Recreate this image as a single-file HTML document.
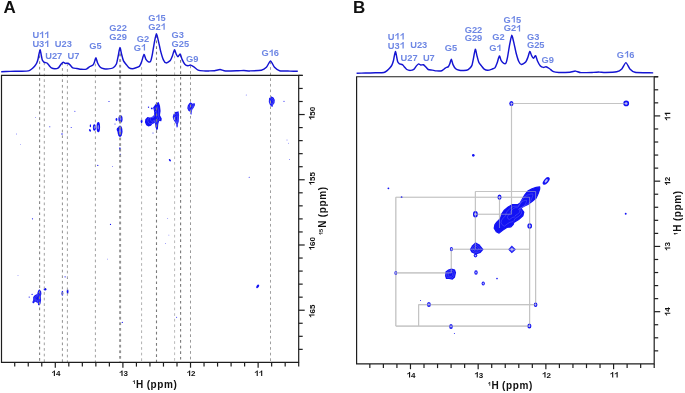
<!DOCTYPE html>
<html><head><meta charset="utf-8"><title>NMR spectra</title>
<style>html,body{margin:0;padding:0;background:#fff;width:685px;height:393px;overflow:hidden}svg{display:block;will-change:transform}text{font-kerning:none}</style>
</head><body>
<svg width="685" height="393" viewBox="0 0 685 393">
<rect width="685" height="393" fill="#fff"/>
<g font-family='"Liberation Sans", sans-serif' font-weight="bold" fill="#111">
<text x="3.45" y="12.75" font-size="17">A</text>
<text x="353.05" y="12.5" font-size="17">B</text>
</g>
<g fill="#1212f4">
<path d="M39.3 289.2L41.1 291.3L41.4 293.8L40.8 296.2L41.1 299.9L40.5 303.5L39.3 305.6L38.1 305L37.8 302.9L35.3 301.7L33.2 303.5L32.3 302.3L33.2 299.9L33.2 297.1L34.7 295.3L37.1 294.1L38.1 290.7Z"/>
<path d="M158.7 101.9L160 105.8L160.6 111L160 115.3L161.8 118.7L161.3 121.3L159.2 120.9L158.3 123.9L157.9 129.1L156.6 130.4L155.3 126.5L154.9 123.1L152.3 123.9L151 125.7L148.4 126.5L146.2 125.2L144.9 122.2L145.3 119.2L147.5 117L150.1 117.4L152.7 116.6L154 114.9L154 111L153.1 107.5L154.4 105.8L156.2 103.2Z"/>
<path d="M178.5 111.2L179.1 115.1L178.8 121.2L177.9 124.3L177.6 127.3L176.7 127.6L176.1 124.3L175.1 122.2L173.6 120L172.7 117L173.6 113.9L175.1 112.1L177 111.8Z"/>
<path d="M190.4 102.3L192.7 103.8L194.5 103.1L195 105.1L193.7 107.7L192.2 109.7L191.7 112.7L191.4 114.8L190.6 114.3L190.1 111.7L188.4 110.7L187.3 108.2L187.8 105.6L189.1 103.6Z"/>
<path d="M271 96.2L273.5 97.5L274.8 100L274.5 103L273 105L272.5 107L271.5 106.5L270 105L268.8 102L269 98.5Z"/>
<ellipse cx="98.3" cy="127.2" rx="1.75" ry="5.1"/>
<ellipse cx="94.4" cy="127.5" rx="1.5" ry="3.3"/>
<ellipse cx="90.4" cy="125.7" rx="0.65" ry="1.5"/>
<ellipse cx="90" cy="130.4" rx="0.9" ry="1.4" transform="rotate(-30 90 130.4)"/>
<ellipse cx="120.5" cy="118.9" rx="2.1" ry="3.7"/>
<ellipse cx="116.5" cy="119.5" rx="0.9" ry="1.4"/>
<ellipse cx="115" cy="124.1" rx="0.5" ry="0.5"/>
<ellipse cx="120" cy="131.2" rx="2.5" ry="5.8"/>
<ellipse cx="118" cy="129.5" rx="1.3" ry="2"/>
<ellipse cx="119.9" cy="149" rx="0.8" ry="1.8"/>
<ellipse cx="120.3" cy="154.3" rx="0.6" ry="0.6"/>
<ellipse cx="141.6" cy="121.3" rx="0.9" ry="2"/>
<ellipse cx="148.5" cy="107.1" rx="0.7" ry="0.7"/>
<ellipse cx="151.8" cy="108.4" rx="0.9" ry="0.9"/>
<ellipse cx="45.1" cy="289.2" rx="1.3" ry="1.3"/>
<ellipse cx="32.1" cy="294.4" rx="0.6" ry="0.6"/>
<ellipse cx="29.2" cy="297.1" rx="0.6" ry="0.6"/>
<ellipse cx="62.4" cy="293.3" rx="0.9" ry="2.5"/>
<ellipse cx="67.6" cy="291.6" rx="0.9" ry="2.6"/>
<ellipse cx="65.1" cy="276.8" rx="0.6" ry="0.6"/>
<ellipse cx="67.5" cy="278.5" rx="0.5" ry="0.5"/>
<ellipse cx="257.7" cy="286.4" rx="1.2" ry="2" transform="rotate(35 257.7 286.4)"/>
<ellipse cx="284" cy="101.3" rx="0.6" ry="0.5"/>
<ellipse cx="109" cy="101.4" rx="0.6" ry="0.5"/>
<ellipse cx="74.9" cy="111.2" rx="0.5" ry="0.5"/>
<ellipse cx="35.4" cy="117.4" rx="0.4" ry="0.4"/>
<ellipse cx="49.8" cy="126.7" rx="0.5" ry="0.5"/>
<ellipse cx="62" cy="134" rx="0.5" ry="0.9"/>
<ellipse cx="71.2" cy="127.4" rx="0.5" ry="0.5"/>
<ellipse cx="16.6" cy="134" rx="0.4" ry="0.4"/>
<ellipse cx="20.3" cy="144.4" rx="0.3" ry="0.3"/>
<ellipse cx="97.8" cy="165.4" rx="0.6" ry="0.6"/>
<ellipse cx="112.5" cy="166.5" rx="0.4" ry="0.4"/>
<ellipse cx="32.5" cy="218.8" rx="0.6" ry="0.6"/>
<ellipse cx="110.5" cy="224.4" rx="0.6" ry="0.6"/>
<ellipse cx="107.4" cy="259.1" rx="0.4" ry="0.4"/>
<ellipse cx="18" cy="275.6" rx="0.4" ry="0.4"/>
<ellipse cx="122.3" cy="322.4" rx="0.6" ry="0.6"/>
<ellipse cx="148.7" cy="107.5" rx="0.4" ry="0.4"/>
<ellipse cx="169.9" cy="160.2" rx="0.85" ry="1.4" transform="rotate(-35 169.9 160.2)"/>
<ellipse cx="249.2" cy="177.3" rx="0.5" ry="0.5"/>
<ellipse cx="287" cy="140" rx="0.4" ry="0.4"/>
<ellipse cx="289.4" cy="159.5" rx="0.4" ry="0.4"/>
<ellipse cx="167.7" cy="218.6" rx="0.4" ry="0.4"/>
<ellipse cx="168.9" cy="235.1" rx="0.4" ry="0.4"/>
<ellipse cx="165.4" cy="243.4" rx="0.4" ry="0.4"/>
<ellipse cx="176.6" cy="317.2" rx="0.5" ry="0.5"/>
<ellipse cx="153" cy="133" rx="0.5" ry="0.5"/>
<ellipse cx="246.2" cy="95" rx="0.4" ry="0.4"/>
<ellipse cx="288.5" cy="143.2" rx="0.4" ry="0.4"/>
</g>
<g fill="none" stroke="#fff" stroke-width="0.45" stroke-opacity="0.35">
<path d="M38.74 291.95L40 293.42L40.21 295.17L39.79 296.85L40 299.44L39.58 301.96L38.74 303.43L37.9 303.01L37.69 301.54L35.94 300.7L34.47 301.96L33.84 301.12L34.47 299.44L34.47 297.48L35.52 296.22L37.2 295.38L37.9 293Z"/>
<path d="M38.22 294.51L38.98 295.39L39.1 296.44L38.85 297.45L38.98 299L38.73 300.51L38.22 301.4L37.72 301.14L37.59 300.26L36.54 299.76L35.66 300.51L35.28 300.01L35.66 299L35.66 297.83L36.29 297.07L37.3 296.57L37.72 295.14Z"/>
<path d="M157.41 106.68L158.32 109.41L158.74 113.05L158.32 116.06L159.58 118.44L159.23 120.26L157.76 119.98L157.13 122.08L156.85 125.72L155.94 126.63L155.03 123.9L154.75 121.52L152.93 122.08L152.02 123.34L150.2 123.9L148.66 122.99L147.75 120.89L148.03 118.79L149.57 117.25L151.39 117.53L153.21 116.97L154.12 115.78L154.12 113.05L153.49 110.6L154.4 109.41L155.66 107.59Z"/>
<path d="M156.21 111.15L156.76 112.79L157.01 114.97L156.76 116.78L157.51 118.2L157.3 119.3L156.42 119.13L156.04 120.39L155.88 122.57L155.33 123.12L154.78 121.48L154.62 120.05L153.52 120.39L152.98 121.14L151.89 121.48L150.96 120.93L150.42 119.67L150.58 118.41L151.51 117.49L152.6 117.66L153.69 117.32L154.24 116.61L154.24 114.97L153.86 113.5L154.41 112.79L155.16 111.69Z"/>
<path d="M177.84 113.56L178.26 116.29L178.05 120.56L177.42 122.73L177.21 124.83L176.58 125.04L176.16 122.73L175.46 121.26L174.41 119.72L173.78 117.62L174.41 115.45L175.46 114.19L176.79 113.98Z"/>
<path d="M177.22 115.77L177.47 117.41L177.35 119.97L176.97 121.27L176.84 122.53L176.46 122.66L176.21 121.27L175.79 120.39L175.16 119.46L174.78 118.2L175.16 116.9L175.79 116.15L176.59 116.02Z"/>
<path d="M190.6 104.04L192.21 105.09L193.47 104.6L193.82 106L192.91 107.82L191.86 109.22L191.51 111.32L191.3 112.79L190.74 112.44L190.39 110.62L189.2 109.92L188.43 108.17L188.78 106.35L189.69 104.95Z"/>
<path d="M190.79 105.66L191.75 106.29L192.51 106L192.72 106.84L192.17 107.93L191.54 108.77L191.33 110.03L191.21 110.91L190.87 110.7L190.66 109.61L189.95 109.19L189.48 108.14L189.69 107.05L190.24 106.21Z"/>
<path d="M271.26 97.96L273.01 98.87L273.92 100.62L273.71 102.72L272.66 104.12L272.31 105.52L271.61 105.17L270.56 104.12L269.72 102.02L269.86 99.57Z"/>
<path d="M271.5 99.6L272.55 100.15L273.09 101.2L272.97 102.46L272.34 103.3L272.13 104.14L271.71 103.93L271.08 103.3L270.57 102.04L270.66 100.57Z"/>
</g>
<g fill="#fff" fill-opacity="0.45">
<ellipse cx="98.3" cy="127.2" rx="0.79" ry="2.29"/>
<ellipse cx="94.4" cy="127.5" rx="0.68" ry="1.48"/>
<ellipse cx="120.5" cy="118.9" rx="0.95" ry="1.67"/>
<ellipse cx="120" cy="131.2" rx="1.12" ry="2.61"/>
</g>
<g fill="none" stroke-dasharray="2.7 2.9">
<line x1="39.6" y1="50" x2="39.6" y2="362.4" stroke="#858585" stroke-width="1.1"/>
<line x1="44.3" y1="62.5" x2="44.3" y2="362.4" stroke="#a0a0a0" stroke-width="1"/>
<line x1="62.4" y1="62.5" x2="62.4" y2="362.4" stroke="#909090" stroke-width="1"/>
<line x1="67.4" y1="63.5" x2="67.4" y2="362.4" stroke="#a0a0a0" stroke-width="1"/>
<line x1="95.4" y1="58" x2="95.4" y2="362.4" stroke="#a0a0a0" stroke-width="1"/>
<line x1="119.7" y1="48" x2="119.7" y2="362.4" stroke="#8a8a8a" stroke-width="1"/>
<line x1="120.6" y1="48" x2="120.6" y2="362.4" stroke="#8a8a8a" stroke-width="1"/>
<line x1="141.6" y1="61.5" x2="141.6" y2="362.4" stroke="#b0b0b0" stroke-width="1"/>
<line x1="156.5" y1="35" x2="156.5" y2="362.4" stroke="#7a7a7a" stroke-width="1.1"/>
<line x1="174.6" y1="50" x2="174.6" y2="362.4" stroke="#bababa" stroke-width="1"/>
<line x1="180.6" y1="54.5" x2="180.6" y2="362.4" stroke="#7a7a7a" stroke-width="1.1"/>
<line x1="190.5" y1="65.5" x2="190.5" y2="362.4" stroke="#999999" stroke-width="1"/>
<line x1="270.5" y1="61.5" x2="270.5" y2="362.4" stroke="#a0a0a0" stroke-width="1"/>
</g>
<g stroke="#1e1e1e" stroke-width="1.2" fill="none">
<path d="M1.5 75.4H298.7V362.4H1.5Z"/>
<line x1="298.7" y1="75.4" x2="302.7" y2="75.4"/>
<line x1="14.72" y1="362.4" x2="14.72" y2="366.6"/>
<line x1="28.25" y1="362.4" x2="28.25" y2="366.6"/>
<line x1="41.77" y1="362.4" x2="41.77" y2="366.6"/>
<line x1="55.29" y1="362.4" x2="55.29" y2="367.7"/>
<line x1="68.81" y1="362.4" x2="68.81" y2="366.6"/>
<line x1="82.34" y1="362.4" x2="82.34" y2="366.6"/>
<line x1="95.86" y1="362.4" x2="95.86" y2="366.6"/>
<line x1="109.38" y1="362.4" x2="109.38" y2="366.6"/>
<line x1="122.9" y1="362.4" x2="122.9" y2="367.7"/>
<line x1="136.43" y1="362.4" x2="136.43" y2="366.6"/>
<line x1="149.95" y1="362.4" x2="149.95" y2="366.6"/>
<line x1="163.47" y1="362.4" x2="163.47" y2="366.6"/>
<line x1="177" y1="362.4" x2="177" y2="366.6"/>
<line x1="190.52" y1="362.4" x2="190.52" y2="367.7"/>
<line x1="204.04" y1="362.4" x2="204.04" y2="366.6"/>
<line x1="217.56" y1="362.4" x2="217.56" y2="366.6"/>
<line x1="231.09" y1="362.4" x2="231.09" y2="366.6"/>
<line x1="244.61" y1="362.4" x2="244.61" y2="366.6"/>
<line x1="258.13" y1="362.4" x2="258.13" y2="367.7"/>
<line x1="271.65" y1="362.4" x2="271.65" y2="366.6"/>
<line x1="285.18" y1="362.4" x2="285.18" y2="366.6"/>
<line x1="298.7" y1="362.4" x2="298.7" y2="366.6"/>
<line x1="298.7" y1="75.4" x2="302.7" y2="75.4"/>
<line x1="298.7" y1="88.45" x2="302.7" y2="88.45"/>
<line x1="298.7" y1="101.49" x2="302.7" y2="101.49"/>
<line x1="298.7" y1="114.54" x2="304.7" y2="114.54"/>
<line x1="298.7" y1="127.58" x2="302.7" y2="127.58"/>
<line x1="298.7" y1="140.63" x2="302.7" y2="140.63"/>
<line x1="298.7" y1="153.67" x2="302.7" y2="153.67"/>
<line x1="298.7" y1="166.72" x2="302.7" y2="166.72"/>
<line x1="298.7" y1="179.76" x2="304.7" y2="179.76"/>
<line x1="298.7" y1="192.81" x2="302.7" y2="192.81"/>
<line x1="298.7" y1="205.85" x2="302.7" y2="205.85"/>
<line x1="298.7" y1="218.9" x2="302.7" y2="218.9"/>
<line x1="298.7" y1="231.95" x2="302.7" y2="231.95"/>
<line x1="298.7" y1="244.99" x2="304.7" y2="244.99"/>
<line x1="298.7" y1="258.04" x2="302.7" y2="258.04"/>
<line x1="298.7" y1="271.08" x2="302.7" y2="271.08"/>
<line x1="298.7" y1="284.13" x2="302.7" y2="284.13"/>
<line x1="298.7" y1="297.17" x2="302.7" y2="297.17"/>
<line x1="298.7" y1="310.22" x2="304.7" y2="310.22"/>
<line x1="298.7" y1="323.26" x2="302.7" y2="323.26"/>
<line x1="298.7" y1="336.31" x2="302.7" y2="336.31"/>
<line x1="298.7" y1="349.35" x2="302.7" y2="349.35"/>
</g>
<g font-family='"Liberation Sans", sans-serif' font-weight="bold" font-size="8" fill="#111">
<path d="M0.3 0L0.438 0L0.438 -0.7L0.326 -0.7C0.3 -0.626 0.21 -0.548 0.075 -0.5L0.075 -0.378C0.165 -0.408 0.245 -0.456 0.3 -0.51Z" transform="translate(51.44 376) scale(8)"/><text x="55.89" y="376" font-size="8">4</text>
<path d="M0.3 0L0.438 0L0.438 -0.7L0.326 -0.7C0.3 -0.626 0.21 -0.548 0.075 -0.5L0.075 -0.378C0.165 -0.408 0.245 -0.456 0.3 -0.51Z" transform="translate(119.06 376) scale(8)"/><text x="123.5" y="376" font-size="8">3</text>
<path d="M0.3 0L0.438 0L0.438 -0.7L0.326 -0.7C0.3 -0.626 0.21 -0.548 0.075 -0.5L0.075 -0.378C0.165 -0.408 0.245 -0.456 0.3 -0.51Z" transform="translate(186.67 376) scale(8)"/><text x="191.12" y="376" font-size="8">2</text>
<path d="M0.3 0L0.438 0L0.438 -0.7L0.326 -0.7C0.3 -0.626 0.21 -0.548 0.075 -0.5L0.075 -0.378C0.165 -0.408 0.245 -0.456 0.3 -0.51Z" transform="translate(254.28 376) scale(8)"/><path d="M0.3 0L0.438 0L0.438 -0.7L0.326 -0.7C0.3 -0.626 0.21 -0.548 0.075 -0.5L0.075 -0.378C0.165 -0.408 0.245 -0.456 0.3 -0.51Z" transform="translate(258.73 376) scale(8)"/>
<g transform="translate(314.5 113.44) rotate(-90)"><path d="M0.3 0L0.438 0L0.438 -0.7L0.326 -0.7C0.3 -0.626 0.21 -0.548 0.075 -0.5L0.075 -0.378C0.165 -0.408 0.245 -0.456 0.3 -0.51Z" transform="translate(-6.67 0) scale(8)"/><text x="-2.22" y="0" font-size="8">50</text></g>
<g transform="translate(314.5 178.76) rotate(-90)"><path d="M0.3 0L0.438 0L0.438 -0.7L0.326 -0.7C0.3 -0.626 0.21 -0.548 0.075 -0.5L0.075 -0.378C0.165 -0.408 0.245 -0.456 0.3 -0.51Z" transform="translate(-6.67 0) scale(8)"/><text x="-2.22" y="0" font-size="8">55</text></g>
<g transform="translate(314.5 243.79) rotate(-90)"><path d="M0.3 0L0.438 0L0.438 -0.7L0.326 -0.7C0.3 -0.626 0.21 -0.548 0.075 -0.5L0.075 -0.378C0.165 -0.408 0.245 -0.456 0.3 -0.51Z" transform="translate(-6.67 0) scale(8)"/><text x="-2.22" y="0" font-size="8">60</text></g>
<g transform="translate(314.5 311.22) rotate(-90)"><path d="M0.3 0L0.438 0L0.438 -0.7L0.326 -0.7C0.3 -0.626 0.21 -0.548 0.075 -0.5L0.075 -0.378C0.165 -0.408 0.245 -0.456 0.3 -0.51Z" transform="translate(-6.67 0) scale(8)"/><text x="-2.22" y="0" font-size="8">65</text></g>
</g>
<g font-family='"Liberation Sans", sans-serif' font-weight="bold" fill="#111"><path d="M0.3 0L0.438 0L0.438 -0.7L0.326 -0.7C0.3 -0.626 0.21 -0.548 0.075 -0.5L0.075 -0.378C0.165 -0.408 0.245 -0.456 0.3 -0.51Z" transform="translate(132.39 384.1) scale(5.5)"/><text x="136.03" y="387.6" font-size="10">H</text><text x="146.7" y="387.6" font-size="10" letter-spacing="0.6">(ppm)</text></g>
<g transform="translate(326.3 227.2) rotate(-90)"><g font-family='"Liberation Sans", sans-serif' font-weight="bold" fill="#111"><path d="M0.3 0L0.438 0L0.438 -0.7L0.326 -0.7C0.3 -0.626 0.21 -0.548 0.075 -0.5L0.075 -0.378C0.165 -0.408 0.245 -0.456 0.3 -0.51Z" transform="translate(-7.86 -3.5) scale(5.5)"/><text x="-4.8" y="-3.5" font-size="5.5">5</text><text x="-0.67" y="0" font-size="10">N</text><text x="10" y="0" font-size="10" letter-spacing="0.6">(ppm)</text></g></g>
<path d="M1.2 71.7C2.14 71.67 7.99 71.45 10 71.4C12.01 71.35 18.03 71.25 20 71.2C21.97 71.15 27.25 71.13 28.5 70.9C29.75 70.67 31.05 69.5 31.7 69C32.35 68.5 34.08 66.81 34.6 66.2C35.12 65.59 36.24 64.05 36.6 63.3C36.96 62.55 37.74 60.19 38 59.2C38.26 58.21 38.77 55 39 54C39.23 53 39.97 49.71 40.2 49.8C40.43 49.89 40.98 53.7 41.2 54.8C41.42 55.9 42.01 59.32 42.3 60.1C42.59 60.88 43.61 61.84 43.9 62.1C44.19 62.36 44.67 62.4 45 62.5C45.33 62.6 46.59 62.72 47 63C47.41 63.28 48.33 64.58 48.8 65.1C49.27 65.62 50.75 67.51 51.4 67.9C52.05 68.29 54.15 68.81 54.9 68.8C55.65 68.79 57.75 68.28 58.4 67.8C59.05 67.32 60.49 64.89 61 64.3C61.51 63.71 62.73 62.4 63.2 62.3C63.67 62.2 64.89 63.3 65.4 63.4C65.91 63.5 67.49 63.02 68 63.2C68.51 63.38 69.69 64.6 70.2 65.1C70.71 65.6 72.1 67.54 72.8 67.9C73.5 68.26 75.9 68.35 76.8 68.5C77.7 68.65 80.18 69.24 81.2 69.3C82.22 69.36 85.47 69.4 86.4 69.1C87.33 68.8 89.2 66.94 89.9 66.5C90.6 66.06 92.53 65.43 93 65C93.47 64.57 93.99 63.28 94.3 62.5C94.61 61.72 95.55 57.65 95.9 57.7C96.25 57.75 97.13 61.99 97.6 63C98.07 64.01 99.63 66.59 100.3 67.2C100.97 67.81 103.04 68.52 103.9 68.7C104.76 68.88 107.45 68.97 108.4 68.9C109.35 68.83 111.95 68.52 112.8 68C113.65 67.48 115.82 65.28 116.4 64C116.98 62.72 117.83 57.75 118.2 56C118.57 54.25 119.53 47.74 119.9 47.6C120.27 47.46 121.32 53.28 121.7 54.7C122.08 56.12 123.02 59.85 123.5 60.9C123.98 61.95 125.63 63.79 126.2 64.5C126.77 65.21 128.14 67.15 128.8 67.6C129.46 68.05 131.54 68.72 132.4 68.7C133.26 68.68 136.14 67.66 136.9 67.4C137.66 67.14 138.99 66.94 139.5 66.3C140.01 65.66 141.22 62.67 141.7 61.4C142.18 60.13 143.56 54.65 144 54.4C144.44 54.15 145.33 58.31 145.8 59.1C146.27 59.89 147.9 61.54 148.4 61.8C148.9 62.06 150.11 62.15 150.5 61.5C150.89 60.85 151.69 57.69 152.1 55.7C152.51 53.71 153.84 45.15 154.3 42.8C154.76 40.45 155.94 33.81 156.4 33.7C156.86 33.59 158.14 39.91 158.6 41.8C159.06 43.69 160.19 49.47 160.7 51.4C161.21 53.33 162.83 58.67 163.4 59.9C163.97 61.13 165.26 62.84 166 62.9C166.74 62.96 169.61 61.27 170.3 60.5C170.99 59.73 172.06 56.84 172.5 55.7C172.94 54.56 174.01 49.97 174.4 49.8C174.79 49.63 175.82 53.36 176.2 54.1C176.58 54.84 177.57 56.7 178 56.7C178.43 56.7 179.76 53.81 180.2 54.1C180.64 54.39 181.61 58.32 182.1 59.4C182.59 60.48 184.17 63.52 184.8 64.2C185.43 64.88 187.38 65.7 188 65.8C188.62 65.9 189.97 64.98 190.6 65.1C191.23 65.22 193.1 66.37 193.9 66.9C194.7 67.43 197.08 69.67 198.1 70.1C199.12 70.53 202.29 70.81 203.5 70.9C204.71 70.99 208.22 70.92 209.4 70.9C210.58 70.88 213.46 70.85 214.6 70.7C215.74 70.55 218.94 69.47 220.1 69.5C221.26 69.53 223.59 70.86 225.5 71C227.41 71.14 236.05 70.85 238 70.8C239.95 70.75 242.52 70.49 243.8 70.5C245.08 70.51 248.13 70.93 250 70.9C251.87 70.87 259.55 70.58 261.3 70.2C263.05 69.82 265.42 68.28 266.4 67.3C267.38 66.32 269.64 61 270.5 61C271.36 61 273.53 66.27 274.5 67.3C275.47 68.33 277.95 70.29 279.6 70.7C281.25 71.11 288.06 71.04 290 71.1C291.94 71.16 296.97 71.28 297.8 71.3" fill="none" stroke="#1414d2" stroke-width="1.45" stroke-linejoin="round"/>
<g font-family='"Liberation Sans", sans-serif' font-weight="bold" font-size="9.3" fill="#6e87e4">
<text x="32.39" y="38" font-size="9.3">U</text><path d="M0.3 0L0.438 0L0.438 -0.7L0.326 -0.7C0.3 -0.626 0.21 -0.548 0.075 -0.5L0.075 -0.378C0.165 -0.408 0.245 -0.456 0.3 -0.51Z" transform="translate(39.11 38) scale(9.3)"/><path d="M0.3 0L0.438 0L0.438 -0.7L0.326 -0.7C0.3 -0.626 0.21 -0.548 0.075 -0.5L0.075 -0.378C0.165 -0.408 0.245 -0.456 0.3 -0.51Z" transform="translate(44.28 38) scale(9.3)"/>
<text x="32.39" y="46.9" font-size="9.3">U3</text><path d="M0.3 0L0.438 0L0.438 -0.7L0.326 -0.7C0.3 -0.626 0.21 -0.548 0.075 -0.5L0.075 -0.378C0.165 -0.408 0.245 -0.456 0.3 -0.51Z" transform="translate(44.28 46.9) scale(9.3)"/>
<text x="54.79" y="46.9" font-size="9.3">U23</text>
<text x="45.19" y="59.1" font-size="9.3">U27</text>
<text x="67.49" y="59.1" font-size="9.3">U7</text>
<text x="89.37" y="49" font-size="9.3">G5</text>
<text x="109.27" y="31.2" font-size="9.3">G22</text>
<text x="109.27" y="39.8" font-size="9.3">G29</text>
<text x="136.77" y="42" font-size="9.3">G2</text>
<text x="133.77" y="50.5" font-size="9.3">G</text><path d="M0.3 0L0.438 0L0.438 -0.7L0.326 -0.7C0.3 -0.626 0.21 -0.548 0.075 -0.5L0.075 -0.378C0.165 -0.408 0.245 -0.456 0.3 -0.51Z" transform="translate(141 50.5) scale(9.3)"/>
<text x="148.17" y="21" font-size="9.3">G</text><path d="M0.3 0L0.438 0L0.438 -0.7L0.326 -0.7C0.3 -0.626 0.21 -0.548 0.075 -0.5L0.075 -0.378C0.165 -0.408 0.245 -0.456 0.3 -0.51Z" transform="translate(155.4 21) scale(9.3)"/><text x="160.57" y="21" font-size="9.3">5</text>
<text x="148.27" y="29.8" font-size="9.3">G2</text><path d="M0.3 0L0.438 0L0.438 -0.7L0.326 -0.7C0.3 -0.626 0.21 -0.548 0.075 -0.5L0.075 -0.378C0.165 -0.408 0.245 -0.456 0.3 -0.51Z" transform="translate(160.67 29.8) scale(9.3)"/>
<text x="171.57" y="38.3" font-size="9.3">G3</text>
<text x="171.57" y="46.8" font-size="9.3">G25</text>
<text x="186.07" y="61.7" font-size="9.3">G9</text>
<text x="261.47" y="56" font-size="9.3">G</text><path d="M0.3 0L0.438 0L0.438 -0.7L0.326 -0.7C0.3 -0.626 0.21 -0.548 0.075 -0.5L0.075 -0.378C0.165 -0.408 0.245 -0.456 0.3 -0.51Z" transform="translate(268.7 56) scale(9.3)"/><text x="273.87" y="56" font-size="9.3">6</text>
</g>
<g stroke="#c4c4c4" stroke-width="1.1" fill="none">
<line x1="511.4" y1="103.5" x2="626.2" y2="103.5"/>
<line x1="511.5" y1="103.5" x2="511.5" y2="214.2"/>
<line x1="475.4" y1="214.2" x2="511.5" y2="214.2"/>
<line x1="475.4" y1="191.5" x2="475.4" y2="249.3"/>
<line x1="475.4" y1="191.5" x2="535.6" y2="191.5"/>
<line x1="535.6" y1="191.5" x2="535.6" y2="304.8"/>
<line x1="395.8" y1="197.3" x2="529.6" y2="197.3"/>
<line x1="529.6" y1="197.3" x2="529.6" y2="326.1"/>
<line x1="395.8" y1="197.3" x2="395.8" y2="326.1"/>
<line x1="451.3" y1="249.3" x2="529.6" y2="249.3"/>
<line x1="451.3" y1="249.3" x2="451.3" y2="272.9"/>
<line x1="395.8" y1="272.9" x2="451.3" y2="272.9"/>
<line x1="418.6" y1="304.4" x2="418.6" y2="326.1"/>
<line x1="418.6" y1="304.6" x2="535.6" y2="304.6"/>
<line x1="395.8" y1="326.1" x2="529.4" y2="326.1"/>
<line x1="499.5" y1="197.3" x2="499.5" y2="228"/>
</g>
<g fill="#1212f4">
<path d="M539.7 186.9L536.2 187.3L532 188.7L527.8 191.1L525 194.6L522.9 198.1L520.1 203L518 204.6L512.4 204.6L508.2 207L504 210.5L501.8 213.8L500.5 218.4L497 221.9L494.9 224.7L494.2 228.2L496.3 231.7L499.1 233.1L502.6 230.3L506.8 227.5L511 226.8L513.1 224.7L513.8 222.6L518.7 219.5L522.9 215.8L523.8 212.1L520.8 208.2L523.6 206.5L527.8 204.4L532 201.6L536.2 198.1L538.3 193.2L539.7 189Z" stroke="#1212f4" stroke-width="1.2" stroke-linejoin="round"/>
<path d="M475.5 242.3L479.5 244.5L483.6 249.5L480.5 253L476 254.5L471.5 252.5L469.8 249.5L472 245.5Z"/>
<path d="M511.8 245.5L515.9 249.4L511.8 253.2L508.2 249.4Z"/>
<path d="M451.5 268.6L455 269.5L456.1 272.5L455 277.5L452.5 279.7L449 279L446 279L445 276L445.5 271.5L448.2 269.5Z"/>
<ellipse cx="626.2" cy="103.4" rx="2.9" ry="2.8"/>
<ellipse cx="511.4" cy="103.6" rx="2.1" ry="2.5"/>
<ellipse cx="546.2" cy="180.9" rx="4.6" ry="2.3" transform="rotate(-50 546.2 180.9)"/>
<ellipse cx="499.5" cy="197.3" rx="2" ry="2.7"/>
<ellipse cx="529.7" cy="226" rx="2.3" ry="2.8"/>
<ellipse cx="475.4" cy="214.2" rx="2.4" ry="3.3"/>
<ellipse cx="475.5" cy="255.6" rx="1.8" ry="1.8"/>
<ellipse cx="451.4" cy="249.1" rx="1.5" ry="2.2"/>
<ellipse cx="476" cy="272.5" rx="1.7" ry="2.3"/>
<ellipse cx="483.2" cy="283.5" rx="1.6" ry="2"/>
<ellipse cx="395.8" cy="272.9" rx="1.4" ry="2"/>
<ellipse cx="428.9" cy="304.4" rx="1.9" ry="2.5"/>
<ellipse cx="535.6" cy="304.8" rx="1.8" ry="2.3"/>
<ellipse cx="451" cy="326.5" rx="1.8" ry="2.5"/>
<ellipse cx="529.4" cy="326.1" rx="2" ry="2.5"/>
<ellipse cx="473.3" cy="155.3" rx="1.3" ry="1.4"/>
<ellipse cx="388.4" cy="188.3" rx="0.9" ry="0.9"/>
<ellipse cx="401.6" cy="197.2" rx="0.9" ry="0.9"/>
<ellipse cx="625.7" cy="213.8" rx="0.95" ry="0.95"/>
<ellipse cx="497" cy="278.6" rx="0.8" ry="0.8"/>
<ellipse cx="420.5" cy="300.6" rx="0.5" ry="0.5"/>
<ellipse cx="454.4" cy="333.4" rx="0.5" ry="0.5"/>
</g>
<g fill="none" stroke="#fff" stroke-width="0.45" stroke-opacity="0.35">
<path d="M532.89 193.82L530.44 194.1L527.5 195.08L524.56 196.76L522.6 199.21L521.13 201.66L519.17 205.09L517.7 206.21L513.78 206.21L510.84 207.89L507.9 210.34L506.36 212.65L505.45 215.87L503 218.32L501.53 220.28L501.04 222.73L502.51 225.18L504.47 226.16L506.92 224.2L509.86 222.24L512.8 221.75L514.27 220.28L514.76 218.81L518.19 216.64L521.13 214.05L521.76 211.46L519.66 208.73L521.62 207.54L524.56 206.07L527.5 204.11L530.44 201.66L531.91 198.23L532.89 195.29Z"/>
<path d="M526.54 200.27L525.07 200.44L523.3 201.03L521.54 202.04L520.36 203.51L519.48 204.98L518.31 207.03L517.42 207.71L515.07 207.71L513.31 208.71L511.54 210.18L510.62 211.57L510.07 213.5L508.6 214.97L507.72 216.15L507.43 217.62L508.31 219.09L509.49 219.68L510.96 218.5L512.72 217.32L514.48 217.03L515.37 216.15L515.66 215.27L517.72 213.96L519.48 212.41L519.86 210.86L518.6 209.22L519.78 208.5L521.54 207.62L523.3 206.45L525.07 204.98L525.95 202.92L526.54 201.15Z"/>
<path d="M475.67 244.28L478.47 245.82L481.34 249.32L479.17 251.77L476.01 252.82L472.87 251.42L471.68 249.32L473.22 246.52Z"/>
<path d="M475.82 246.14L477.5 247.06L479.22 249.16L477.92 250.63L476.03 251.26L474.14 250.42L473.43 249.16L474.35 247.48Z"/>
<path d="M511.84 246.66L514.71 249.39L511.84 252.05L509.32 249.39Z"/>
<path d="M511.87 247.75L513.59 249.39L511.87 250.98L510.36 249.39Z"/>
<path d="M451.16 270.3L453.61 270.93L454.38 273.03L453.61 276.53L451.86 278.07L449.41 277.58L447.31 277.58L446.61 275.48L446.96 272.33L448.85 270.93Z"/>
<path d="M450.85 271.89L452.32 272.27L452.78 273.53L452.32 275.63L451.27 276.56L449.8 276.26L448.54 276.26L448.12 275L448.33 273.11L449.46 272.27Z"/>
</g>
<g fill="#fff" fill-opacity="0.7">
<path d="M511.87 247.63L513.71 249.39L511.87 251.1L510.25 249.39Z"/>
<ellipse cx="626.2" cy="103.4" rx="1.3" ry="1.26"/>
<ellipse cx="511.4" cy="103.6" rx="0.95" ry="1.12"/>
<ellipse cx="546.2" cy="180.9" rx="2.07" ry="1.03" transform="rotate(-50 546.2 180.9)"/>
<ellipse cx="499.5" cy="197.3" rx="0.9" ry="1.22"/>
<ellipse cx="529.7" cy="226" rx="1.03" ry="1.26"/>
<ellipse cx="475.4" cy="214.2" rx="1.08" ry="1.48"/>
<ellipse cx="475.5" cy="255.6" rx="0.81" ry="0.81"/>
<ellipse cx="451.4" cy="249.1" rx="0.68" ry="0.99"/>
<ellipse cx="476" cy="272.5" rx="0.77" ry="1.03"/>
<ellipse cx="483.2" cy="283.5" rx="0.72" ry="0.9"/>
<ellipse cx="395.8" cy="272.9" rx="0.63" ry="0.9"/>
<ellipse cx="428.9" cy="304.4" rx="0.85" ry="1.12"/>
<ellipse cx="535.6" cy="304.8" rx="0.81" ry="1.03"/>
<ellipse cx="451" cy="326.5" rx="0.81" ry="1.12"/>
<ellipse cx="529.4" cy="326.1" rx="0.9" ry="1.12"/>
</g>
<g stroke="#c4c4c4" stroke-width="1.1" fill="none" stroke-opacity="0.5">
<line x1="511.4" y1="103.5" x2="626.2" y2="103.5"/>
<line x1="511.5" y1="103.5" x2="511.5" y2="214.2"/>
<line x1="475.4" y1="214.2" x2="511.5" y2="214.2"/>
<line x1="475.4" y1="191.5" x2="475.4" y2="249.3"/>
<line x1="475.4" y1="191.5" x2="535.6" y2="191.5"/>
<line x1="535.6" y1="191.5" x2="535.6" y2="304.8"/>
<line x1="395.8" y1="197.3" x2="529.6" y2="197.3"/>
<line x1="529.6" y1="197.3" x2="529.6" y2="326.1"/>
<line x1="395.8" y1="197.3" x2="395.8" y2="326.1"/>
<line x1="451.3" y1="249.3" x2="529.6" y2="249.3"/>
<line x1="451.3" y1="249.3" x2="451.3" y2="272.9"/>
<line x1="395.8" y1="272.9" x2="451.3" y2="272.9"/>
<line x1="418.6" y1="304.4" x2="418.6" y2="326.1"/>
<line x1="418.6" y1="304.6" x2="535.6" y2="304.6"/>
<line x1="395.8" y1="326.1" x2="529.4" y2="326.1"/>
<line x1="499.5" y1="197.3" x2="499.5" y2="228"/>
</g>
<g stroke="#1e1e1e" stroke-width="1.2" fill="none">
<path d="M356.6 76.75H654.2V363.9H356.6Z"/>
<line x1="654.2" y1="76.75" x2="658.2" y2="76.75"/>
<line x1="369.84" y1="363.9" x2="369.84" y2="368.1"/>
<line x1="383.38" y1="363.9" x2="383.38" y2="368.1"/>
<line x1="396.92" y1="363.9" x2="396.92" y2="368.1"/>
<line x1="410.46" y1="363.9" x2="410.46" y2="369.2"/>
<line x1="424" y1="363.9" x2="424" y2="368.1"/>
<line x1="437.55" y1="363.9" x2="437.55" y2="368.1"/>
<line x1="451.09" y1="363.9" x2="451.09" y2="368.1"/>
<line x1="464.63" y1="363.9" x2="464.63" y2="368.1"/>
<line x1="478.17" y1="363.9" x2="478.17" y2="369.2"/>
<line x1="491.71" y1="363.9" x2="491.71" y2="368.1"/>
<line x1="505.25" y1="363.9" x2="505.25" y2="368.1"/>
<line x1="518.79" y1="363.9" x2="518.79" y2="368.1"/>
<line x1="532.33" y1="363.9" x2="532.33" y2="368.1"/>
<line x1="545.87" y1="363.9" x2="545.87" y2="369.2"/>
<line x1="559.41" y1="363.9" x2="559.41" y2="368.1"/>
<line x1="572.95" y1="363.9" x2="572.95" y2="368.1"/>
<line x1="586.5" y1="363.9" x2="586.5" y2="368.1"/>
<line x1="600.04" y1="363.9" x2="600.04" y2="368.1"/>
<line x1="613.58" y1="363.9" x2="613.58" y2="369.2"/>
<line x1="627.12" y1="363.9" x2="627.12" y2="368.1"/>
<line x1="640.66" y1="363.9" x2="640.66" y2="368.1"/>
<line x1="654.2" y1="363.9" x2="654.2" y2="368.1"/>
<line x1="654.2" y1="76.75" x2="658.2" y2="76.75"/>
<line x1="654.2" y1="89.8" x2="658.2" y2="89.8"/>
<line x1="654.2" y1="102.85" x2="658.2" y2="102.85"/>
<line x1="654.2" y1="115.91" x2="660.2" y2="115.91"/>
<line x1="654.2" y1="128.96" x2="658.2" y2="128.96"/>
<line x1="654.2" y1="142.01" x2="658.2" y2="142.01"/>
<line x1="654.2" y1="155.06" x2="658.2" y2="155.06"/>
<line x1="654.2" y1="168.12" x2="658.2" y2="168.12"/>
<line x1="654.2" y1="181.17" x2="660.2" y2="181.17"/>
<line x1="654.2" y1="194.22" x2="658.2" y2="194.22"/>
<line x1="654.2" y1="207.27" x2="658.2" y2="207.27"/>
<line x1="654.2" y1="220.32" x2="658.2" y2="220.32"/>
<line x1="654.2" y1="233.38" x2="658.2" y2="233.38"/>
<line x1="654.2" y1="246.43" x2="660.2" y2="246.43"/>
<line x1="654.2" y1="259.48" x2="658.2" y2="259.48"/>
<line x1="654.2" y1="272.53" x2="658.2" y2="272.53"/>
<line x1="654.2" y1="285.59" x2="658.2" y2="285.59"/>
<line x1="654.2" y1="298.64" x2="658.2" y2="298.64"/>
<line x1="654.2" y1="311.69" x2="660.2" y2="311.69"/>
<line x1="654.2" y1="324.74" x2="658.2" y2="324.74"/>
<line x1="654.2" y1="337.8" x2="658.2" y2="337.8"/>
<line x1="654.2" y1="350.85" x2="658.2" y2="350.85"/>
</g>
<g font-family='"Liberation Sans", sans-serif' font-weight="bold" font-size="8" fill="#111">
<path d="M0.3 0L0.438 0L0.438 -0.7L0.326 -0.7C0.3 -0.626 0.21 -0.548 0.075 -0.5L0.075 -0.378C0.165 -0.408 0.245 -0.456 0.3 -0.51Z" transform="translate(406.61 377.5) scale(8)"/><text x="411.06" y="377.5" font-size="8">4</text>
<path d="M0.3 0L0.438 0L0.438 -0.7L0.326 -0.7C0.3 -0.626 0.21 -0.548 0.075 -0.5L0.075 -0.378C0.165 -0.408 0.245 -0.456 0.3 -0.51Z" transform="translate(474.32 377.5) scale(8)"/><text x="478.77" y="377.5" font-size="8">3</text>
<path d="M0.3 0L0.438 0L0.438 -0.7L0.326 -0.7C0.3 -0.626 0.21 -0.548 0.075 -0.5L0.075 -0.378C0.165 -0.408 0.245 -0.456 0.3 -0.51Z" transform="translate(542.02 377.5) scale(8)"/><text x="546.47" y="377.5" font-size="8">2</text>
<path d="M0.3 0L0.438 0L0.438 -0.7L0.326 -0.7C0.3 -0.626 0.21 -0.548 0.075 -0.5L0.075 -0.378C0.165 -0.408 0.245 -0.456 0.3 -0.51Z" transform="translate(609.73 377.5) scale(8)"/><path d="M0.3 0L0.438 0L0.438 -0.7L0.326 -0.7C0.3 -0.626 0.21 -0.548 0.075 -0.5L0.075 -0.378C0.165 -0.408 0.245 -0.456 0.3 -0.51Z" transform="translate(614.18 377.5) scale(8)"/>
<g transform="translate(670.3 116.31) rotate(-90)"><path d="M0.3 0L0.438 0L0.438 -0.7L0.326 -0.7C0.3 -0.626 0.21 -0.548 0.075 -0.5L0.075 -0.378C0.165 -0.408 0.245 -0.456 0.3 -0.51Z" transform="translate(-4.45 0) scale(8)"/><path d="M0.3 0L0.438 0L0.438 -0.7L0.326 -0.7C0.3 -0.626 0.21 -0.548 0.075 -0.5L0.075 -0.378C0.165 -0.408 0.245 -0.456 0.3 -0.51Z" transform="translate(0 0) scale(8)"/></g>
<g transform="translate(670.3 181.17) rotate(-90)"><path d="M0.3 0L0.438 0L0.438 -0.7L0.326 -0.7C0.3 -0.626 0.21 -0.548 0.075 -0.5L0.075 -0.378C0.165 -0.408 0.245 -0.456 0.3 -0.51Z" transform="translate(-4.45 0) scale(8)"/><text x="0" y="0" font-size="8">2</text></g>
<g transform="translate(670.3 246.43) rotate(-90)"><path d="M0.3 0L0.438 0L0.438 -0.7L0.326 -0.7C0.3 -0.626 0.21 -0.548 0.075 -0.5L0.075 -0.378C0.165 -0.408 0.245 -0.456 0.3 -0.51Z" transform="translate(-4.45 0) scale(8)"/><text x="0" y="0" font-size="8">3</text></g>
<g transform="translate(670.3 311.69) rotate(-90)"><path d="M0.3 0L0.438 0L0.438 -0.7L0.326 -0.7C0.3 -0.626 0.21 -0.548 0.075 -0.5L0.075 -0.378C0.165 -0.408 0.245 -0.456 0.3 -0.51Z" transform="translate(-4.45 0) scale(8)"/><text x="0" y="0" font-size="8">4</text></g>
</g>
<g font-family='"Liberation Sans", sans-serif' font-weight="bold" fill="#111"><path d="M0.3 0L0.438 0L0.438 -0.7L0.326 -0.7C0.3 -0.626 0.21 -0.548 0.075 -0.5L0.075 -0.378C0.165 -0.408 0.245 -0.456 0.3 -0.51Z" transform="translate(487.79 385.8) scale(5.5)"/><text x="491.43" y="389.3" font-size="10">H</text><text x="502.1" y="389.3" font-size="10" letter-spacing="0.6">(ppm)</text></g>
<g transform="translate(681.1 231.1) rotate(-90)"><g font-family='"Liberation Sans", sans-serif' font-weight="bold" fill="#111"><path d="M0.3 0L0.438 0L0.438 -0.7L0.326 -0.7C0.3 -0.626 0.21 -0.548 0.075 -0.5L0.075 -0.378C0.165 -0.408 0.245 -0.456 0.3 -0.51Z" transform="translate(-4.31 -3.5) scale(5.5)"/><text x="-0.67" y="0" font-size="10">H</text><text x="10" y="0" font-size="10" letter-spacing="0.6">(ppm)</text></g></g>
<path d="M356.6 73.3C357.54 73.27 363.39 73.05 365.4 73C367.41 72.95 373.43 72.85 375.4 72.8C377.37 72.75 382.65 72.73 383.9 72.5C385.15 72.27 386.45 71.1 387.1 70.6C387.75 70.1 389.48 68.41 390 67.8C390.52 67.19 391.64 65.65 392 64.9C392.36 64.15 393.14 61.79 393.4 60.8C393.66 59.81 394.17 56.6 394.4 55.6C394.63 54.6 395.37 51.31 395.6 51.4C395.83 51.49 396.38 55.3 396.6 56.4C396.82 57.5 397.41 60.92 397.7 61.7C397.99 62.48 399.01 63.44 399.3 63.7C399.59 63.96 400.07 64 400.4 64.1C400.73 64.2 401.99 64.32 402.4 64.6C402.81 64.88 403.73 66.18 404.2 66.7C404.67 67.22 406.15 69.11 406.8 69.5C407.45 69.89 409.55 70.41 410.3 70.4C411.05 70.39 413.15 69.88 413.8 69.4C414.45 68.92 415.89 66.49 416.4 65.9C416.91 65.31 418.13 64 418.6 63.9C419.07 63.8 420.29 64.9 420.8 65C421.31 65.1 422.89 64.62 423.4 64.8C423.91 64.98 425.09 66.2 425.6 66.7C426.11 67.2 427.5 69.14 428.2 69.5C428.9 69.86 431.3 69.95 432.2 70.1C433.1 70.25 435.58 70.84 436.6 70.9C437.62 70.96 440.87 71 441.8 70.7C442.73 70.4 444.6 68.54 445.3 68.1C446 67.66 447.93 67.03 448.4 66.6C448.87 66.17 449.39 64.88 449.7 64.1C450.01 63.32 450.95 59.25 451.3 59.3C451.65 59.35 452.53 63.59 453 64.6C453.47 65.61 455.03 68.19 455.7 68.8C456.37 69.41 458.44 70.12 459.3 70.3C460.16 70.48 462.85 70.57 463.8 70.5C464.75 70.43 467.35 70.12 468.2 69.6C469.05 69.08 471.22 66.88 471.8 65.6C472.38 64.32 473.23 59.35 473.6 57.6C473.97 55.85 474.93 49.34 475.3 49.2C475.67 49.06 476.72 54.88 477.1 56.3C477.48 57.72 478.42 61.45 478.9 62.5C479.38 63.55 481.03 65.39 481.6 66.1C482.17 66.81 483.54 68.75 484.2 69.2C484.86 69.65 486.94 70.32 487.8 70.3C488.66 70.28 491.54 69.26 492.3 69C493.06 68.74 494.39 68.54 494.9 67.9C495.41 67.26 496.62 64.27 497.1 63C497.58 61.73 498.96 56.25 499.4 56C499.84 55.75 500.73 59.91 501.2 60.7C501.67 61.49 503.3 63.14 503.8 63.4C504.3 63.66 505.51 63.75 505.9 63.1C506.29 62.45 507.09 59.29 507.5 57.3C507.91 55.31 509.24 46.75 509.7 44.4C510.16 42.05 511.34 35.41 511.8 35.3C512.26 35.19 513.54 41.51 514 43.4C514.46 45.29 515.59 51.07 516.1 53C516.61 54.93 518.23 60.27 518.8 61.5C519.37 62.73 520.66 64.44 521.4 64.5C522.14 64.56 525.01 62.87 525.7 62.1C526.39 61.33 527.46 58.44 527.9 57.3C528.34 56.16 529.41 51.57 529.8 51.4C530.19 51.23 531.22 54.96 531.6 55.7C531.98 56.44 532.97 58.3 533.4 58.3C533.83 58.3 535.16 55.41 535.6 55.7C536.04 55.99 537.01 59.92 537.5 61C537.99 62.08 539.57 65.12 540.2 65.8C540.83 66.48 542.78 67.3 543.4 67.4C544.02 67.5 545.37 66.58 546 66.7C546.63 66.82 548.5 67.97 549.3 68.5C550.1 69.03 552.48 71.27 553.5 71.7C554.52 72.13 557.69 72.41 558.9 72.5C560.11 72.59 563.62 72.52 564.8 72.5C565.98 72.48 568.86 72.45 570 72.3C571.14 72.15 574.34 71.07 575.5 71.1C576.66 71.13 578.99 72.46 580.9 72.6C582.81 72.74 591.45 72.45 593.4 72.4C595.35 72.35 597.92 72.09 599.2 72.1C600.48 72.11 603.53 72.53 605.4 72.5C607.27 72.47 614.95 72.18 616.7 71.8C618.45 71.42 620.82 69.88 621.8 68.9C622.78 67.92 625.04 62.6 625.9 62.6C626.76 62.6 628.93 67.87 629.9 68.9C630.87 69.93 633.35 71.89 635 72.3C636.65 72.71 643.46 72.64 645.4 72.7C647.34 72.76 652.37 72.88 653.2 72.9" fill="none" stroke="#1414d2" stroke-width="1.45" stroke-linejoin="round"/>
<g font-family='"Liberation Sans", sans-serif' font-weight="bold" font-size="9.3" fill="#6e87e4">
<text x="387.79" y="39.6" font-size="9.3">U</text><path d="M0.3 0L0.438 0L0.438 -0.7L0.326 -0.7C0.3 -0.626 0.21 -0.548 0.075 -0.5L0.075 -0.378C0.165 -0.408 0.245 -0.456 0.3 -0.51Z" transform="translate(394.51 39.6) scale(9.3)"/><path d="M0.3 0L0.438 0L0.438 -0.7L0.326 -0.7C0.3 -0.626 0.21 -0.548 0.075 -0.5L0.075 -0.378C0.165 -0.408 0.245 -0.456 0.3 -0.51Z" transform="translate(399.68 39.6) scale(9.3)"/>
<text x="387.79" y="48.5" font-size="9.3">U3</text><path d="M0.3 0L0.438 0L0.438 -0.7L0.326 -0.7C0.3 -0.626 0.21 -0.548 0.075 -0.5L0.075 -0.378C0.165 -0.408 0.245 -0.456 0.3 -0.51Z" transform="translate(399.68 48.5) scale(9.3)"/>
<text x="410.19" y="48" font-size="9.3">U23</text>
<text x="400.59" y="60.7" font-size="9.3">U27</text>
<text x="422.89" y="60.7" font-size="9.3">U7</text>
<text x="444.77" y="50.6" font-size="9.3">G5</text>
<text x="464.67" y="32.8" font-size="9.3">G22</text>
<text x="464.67" y="41.4" font-size="9.3">G29</text>
<text x="492.17" y="40" font-size="9.3">G2</text>
<text x="489.17" y="50.9" font-size="9.3">G</text><path d="M0.3 0L0.438 0L0.438 -0.7L0.326 -0.7C0.3 -0.626 0.21 -0.548 0.075 -0.5L0.075 -0.378C0.165 -0.408 0.245 -0.456 0.3 -0.51Z" transform="translate(496.4 50.9) scale(9.3)"/>
<text x="503.57" y="22.6" font-size="9.3">G</text><path d="M0.3 0L0.438 0L0.438 -0.7L0.326 -0.7C0.3 -0.626 0.21 -0.548 0.075 -0.5L0.075 -0.378C0.165 -0.408 0.245 -0.456 0.3 -0.51Z" transform="translate(510.8 22.6) scale(9.3)"/><text x="515.97" y="22.6" font-size="9.3">5</text>
<text x="503.67" y="31.4" font-size="9.3">G2</text><path d="M0.3 0L0.438 0L0.438 -0.7L0.326 -0.7C0.3 -0.626 0.21 -0.548 0.075 -0.5L0.075 -0.378C0.165 -0.408 0.245 -0.456 0.3 -0.51Z" transform="translate(516.07 31.4) scale(9.3)"/>
<text x="526.97" y="39.9" font-size="9.3">G3</text>
<text x="526.97" y="48.4" font-size="9.3">G25</text>
<text x="541.47" y="63.3" font-size="9.3">G9</text>
<text x="616.87" y="57.6" font-size="9.3">G</text><path d="M0.3 0L0.438 0L0.438 -0.7L0.326 -0.7C0.3 -0.626 0.21 -0.548 0.075 -0.5L0.075 -0.378C0.165 -0.408 0.245 -0.456 0.3 -0.51Z" transform="translate(624.1 57.6) scale(9.3)"/><text x="629.27" y="57.6" font-size="9.3">6</text>
</g>
</svg>
</body></html>
